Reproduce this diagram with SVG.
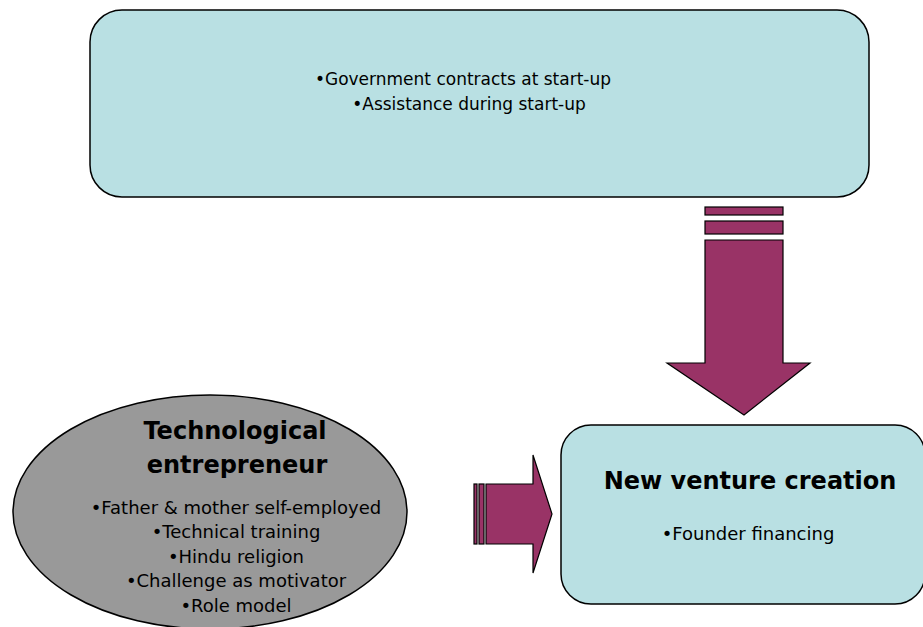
<svg xmlns="http://www.w3.org/2000/svg" width="923" height="627" viewBox="0 0 923 627">
<style>
.box{fill:#B9E0E3;stroke:#000;stroke-width:1.5}
.ell{fill:#999999;stroke:#000;stroke-width:1.5}
.arr{fill:#993366;stroke:#000;stroke-width:1.2}
text{font-family:"DejaVu Sans","Liberation Sans",sans-serif;fill:#000;text-anchor:middle}
.t{font-size:17px}
.m{font-size:18px}
.b{font-size:24px;font-weight:bold}
</style>
<rect width="923" height="627" fill="#fff"/>
<g id="support">
<rect class="box" x="90" y="10" width="779" height="187" rx="32" ry="32"/>
<text class="t" x="463" y="85">•Government contracts at start-up</text>
<text class="t" x="469" y="110">•Assistance during start-up</text>
</g>
<g id="entrepreneur">
<ellipse class="ell" cx="210" cy="512" rx="197" ry="117"/>
<text class="b" x="235" y="439">Technological</text>
<text class="b" x="237" y="473">entrepreneur</text>
<text class="m" x="236" y="514">•Father &amp; mother self-employed</text>
<text class="m" x="236" y="538">•Technical training</text>
<text class="m" x="236" y="563">•Hindu religion</text>
<text class="m" x="236" y="587">•Challenge as motivator</text>
<text class="m" x="236" y="612">•Role model</text>
</g>
<g id="venture">
<rect class="box" x="561" y="425" width="364" height="179" rx="30" ry="30"/>
<text class="b" x="750" y="489">New venture creation</text>
<text class="m" x="748" y="540">•Founder financing</text>
</g>
<g id="connectors">
<rect class="arr" x="705" y="207" width="78" height="8"/>
<rect class="arr" x="705" y="221" width="78" height="13"/>
<polygon class="arr" points="705,240 783,240 783,363 810,363 744,415 667,363 705,363"/>
<rect class="arr" x="474" y="484" width="3" height="60"/>
<rect class="arr" x="479" y="484" width="5" height="60"/>
<polygon class="arr" points="486,484 533,484 533,455 552,514 533,573 533,544 486,544"/>
</g>
</svg>
